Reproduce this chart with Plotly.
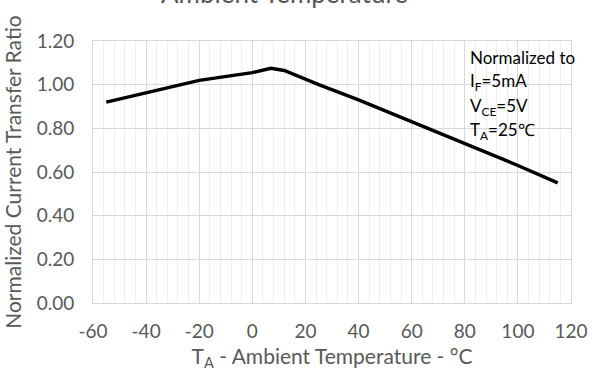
import plotly.graph_objects as go

temps = [-55, -40, -20, 0, 7, 12, 25, 40, 60, 80, 100, 115]
ratio = [0.92, 0.963, 1.02, 1.055, 1.075, 1.065, 1.00, 0.93, 0.83, 0.73, 0.63, 0.55]

x_ticks = [-60, -40, -20, 0, 20, 40, 60, 80, 100, 120]
y_ticks = [0.0, 0.2, 0.4, 0.6, 0.8, 1.0, 1.2]
y_labels = ["%.2f" % v for v in y_ticks]

note_lines = ["Normalized to", "I<sub>F</sub>=5mA", "V<sub>CE</sub>=5V", "T<sub>A</sub>=25℃"]

FONT = "Lato, 'Open Sans', sans-serif"
GRAY = "#595959"

fig = go.Figure()
fig.add_trace(go.Scatter(x=temps, y=ratio, mode="lines",
                         line=dict(color="black", width=3.4), showlegend=False))

fig.update_layout(
    width=600, height=378,
    margin=dict(l=91, r=18, t=41, b=75),
    paper_bgcolor="white", plot_bgcolor="white",
    font=dict(family=FONT, color=GRAY, size=19),
)
fig.update_xaxes(
    range=[-60, 120], tickvals=x_ticks, ticktext=[str(v) for v in x_ticks],
    showgrid=True, gridcolor="#d9d9d9", gridwidth=1,
    minor=dict(dtick=4, tick0=-60, showgrid=True, gridcolor="#eeeeee", gridwidth=1),
    showline=True, linecolor="#d9d9d9", linewidth=1, mirror=True,
    zeroline=False, ticks="", tickfont=dict(size=19, color=GRAY),
    ticklabelstandoff=11,
    title=dict(text="T<sub>A</sub> - Ambient Temperature - °C", font=dict(size=21, color=GRAY), standoff=8),
)
fig.update_yaxes(
    range=[0, 1.2], tickvals=y_ticks, ticktext=y_labels,
    showgrid=True, gridcolor="#d9d9d9", gridwidth=1,
    showline=True, linecolor="#d9d9d9", linewidth=1, mirror=True,
    zeroline=False, ticks="", tickfont=dict(size=19, color=GRAY),
    ticklabelstandoff=14,
    title=dict(text="Normalized Current Transfer Ratio", font=dict(size=21, color=GRAY), standoff=10),
)

# cut-off chart title
fig.add_annotation(text="Ambient Temperature", xref="paper", yref="paper",
                   x=0.5, y=1.0, yshift=30, xshift=-48, showarrow=False,
                   font=dict(size=26, color=GRAY), yanchor="bottom", xanchor="center")

ys = [57, 82, 107, 131]
for txt, yp in zip(note_lines, ys):
    fig.add_annotation(text=txt, xref="paper", yref="paper",
                       x=(476 - 91) / 491, y=1 - (yp - 41) / 262,
                       xanchor="left", yanchor="middle", showarrow=False,
                       font=dict(size=17, color="black"))

fig.write_html("out.html")
